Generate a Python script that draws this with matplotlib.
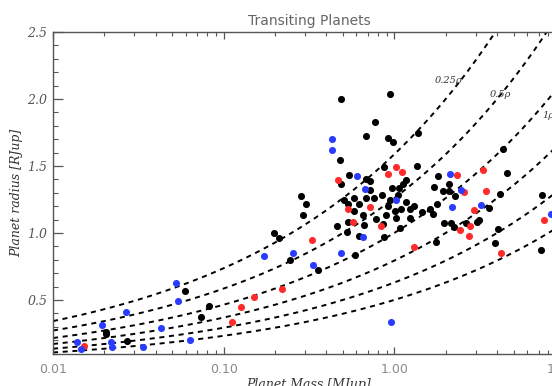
import numpy as np
import matplotlib
matplotlib.use("Agg")
import matplotlib.pyplot as plt
from matplotlib.ticker import FixedLocator, NullFormatter, MultipleLocator

# ---- data (Jupiter units) ----
black_mass = [0.488, 0.939, 0.767, 0.683, 0.914, 0.983, 1.376, 0.479, 0.543, 0.680,
              0.717, 0.488, 0.866, 1.350, 1.164, 1.124, 0.964, 1.065, 0.717, 0.282,
              0.302, 0.292, 0.505, 0.536, 0.584, 0.624, 0.683, 0.757, 0.851, 0.948,
              1.045, 1.164, 0.914, 1.013, 1.099, 1.229, 1.297, 0.584, 0.656, 0.898,
              0.782, 1.027, 1.229, 0.462, 0.538, 0.661, 0.859, 1.074, 0.529, 0.618,
              0.874, 0.246, 0.359, 0.589, 4.34, 1.791, 4.56, 1.714, 1.917, 2.097,
              2.097, 2.265, 4.17, 7.34, 1.777, 1.623, 1.458, 1.691, 3.58, 1.942,
              2.154, 2.223, 2.637, 3.045, 3.154, 4.04, 1.760, 3.91, 7.21, 0.197,
              0.211, 0.0594, 0.0820, 0.0734, 0.0204, 0.0204, 0.0273]
black_radius = [2.00, 2.04, 1.831, 1.726, 1.711, 1.679, 1.744, 1.543, 1.431, 1.403,
                1.386, 1.366, 1.490, 1.502, 1.393, 1.366, 1.336, 1.334, 1.321, 1.274,
                1.214, 1.137, 1.246, 1.216, 1.259, 1.216, 1.263, 1.263, 1.284, 1.246,
                1.284, 1.234, 1.204, 1.164, 1.177, 1.179, 1.204, 1.164, 1.134, 1.134,
                1.107, 1.112, 1.114, 1.052, 1.080, 1.060, 1.067, 1.037, 1.010, 0.978,
                0.972, 0.799, 0.724, 0.836, 1.625, 1.425, 1.446, 1.343, 1.313, 1.363,
                1.313, 1.274, 1.293, 1.284, 1.214, 1.177, 1.154, 1.140, 1.189, 1.077,
                1.077, 1.047, 1.077, 1.084, 1.099, 1.030, 0.935, 0.925, 0.873, 1.002,
                0.965, 0.569, 0.457, 0.371, 0.263, 0.246, 0.196]

red_mass = [0.469, 0.914, 1.027, 1.114, 0.538, 0.717, 0.576, 0.836, 0.331, 1.309,
            2.326, 3.30, 2.543, 3.45, 2.949, 2.783, 2.432, 2.746, 7.54, 4.21,
            0.221, 0.150, 0.127, 0.112, 0.0152]
red_radius = [1.396, 1.443, 1.495, 1.455, 1.177, 1.194, 1.084, 1.054, 0.946, 0.893,
              1.435, 1.470, 1.304, 1.313, 1.172, 1.054, 1.025, 0.978, 1.096, 0.849,
              0.578, 0.525, 0.446, 0.336, 0.157]

blue_mass = [0.430, 0.434, 0.605, 0.674, 1.018, 0.659, 0.254, 0.490, 0.335, 2.106,
             2.455, 2.184, 3.21, 8.25, 0.172, 0.0524, 0.0543, 0.0267, 0.0195, 0.0428,
             0.0635, 0.0138, 0.0218, 0.0146, 0.0223, 0.0335, 0.951]
blue_radius = [1.699, 1.619, 1.423, 1.328, 1.244, 0.968, 0.849, 0.849, 0.759, 1.438,
               1.319, 1.194, 1.207, 1.140, 0.828, 0.625, 0.493, 0.408, 0.313, 0.289,
               0.204, 0.183, 0.184, 0.132, 0.151, 0.151, 0.334]

# iso-density curves (in units of Jupiter density)
density_factors = [0.25, 0.5, 1, 2, 4, 8]
density_labels = ["0.25\u03c1", "0.5\u03c1", "1\u03c1"]
label_mass = [2.07, 4.17, 7.95]
label_radius = [2.14, 2.03, 1.88]

xticks = [0.01, 0.1, 1.0, 10.0]
xticklabels = ["0.01", "0.10", "1.00", "10.00"]
yticks = [0.5, 1.0, 1.5, 2.0, 2.5]

# ---- figure ----
W, H = 552, 386
fig = plt.figure(figsize=(W / 100, H / 100), dpi=100)
left, right, top, bottom = 53, 565, 32, 353.5
ax = fig.add_axes([left / W, 1 - bottom / H, (right - left) / W, (bottom - top) / H])

ax.set_xscale("log")
ax.set_xlim(0.01, 10)
ax.set_ylim(0.1, 2.5)

m = np.logspace(-2, 1.2, 400)
for f in density_factors:
    ax.plot(m, (m / f) ** (1 / 3), color="black", lw=1.4,
            linestyle=(0, (2.6, 2.4)), zorder=2)

for t, xm, yr in zip(density_labels, label_mass, label_radius):
    ax.text(xm, yr, t, fontsize=7, style="italic", family="DejaVu Serif",
            color="#333333", ha="center", va="center", zorder=4)

ms = 26
ax.scatter(black_mass, black_radius, s=ms, color="black", zorder=3, linewidths=0)
ax.scatter(red_mass, red_radius, s=ms, color="#ff2a2a", zorder=3, linewidths=0)
ax.scatter(blue_mass, blue_radius, s=ms, color="#2a3cff", zorder=3, linewidths=0)

spine_col = "#555555"
for s in ax.spines.values():
    s.set_color(spine_col)
    s.set_linewidth(1.0)

ax.xaxis.set_major_locator(FixedLocator(xticks))
ax.set_xticklabels(xticklabels)
minors = [k * 10.0 ** e for e in range(-2, 1) for k in range(2, 10)]
ax.xaxis.set_minor_locator(FixedLocator(minors))
ax.xaxis.set_minor_formatter(NullFormatter())
ax.yaxis.set_major_locator(FixedLocator(yticks))
ax.yaxis.set_minor_locator(MultipleLocator(0.1))
ax.set_yticklabels(["%.1f" % v for v in yticks])

ax.tick_params(axis="x", which="major", direction="in", length=5, width=0.9,
               top=True, bottom=True, color=spine_col, labelcolor="#888888",
               labelsize=9, pad=7)
ax.tick_params(axis="x", which="minor", direction="in", length=3, width=0.8,
               top=True, bottom=True, color=spine_col)
ax.tick_params(axis="y", which="major", direction="in", length=7, width=0.9,
               left=True, right=True, color=spine_col, labelcolor="#555555",
               labelsize=9, pad=4)
ax.tick_params(axis="y", which="minor", direction="in", length=3.5, width=0.8,
               left=True, right=True, color=spine_col)
for lab in ax.get_yticklabels():
    lab.set_fontstyle("italic")
    lab.set_family("DejaVu Serif")

ax.set_title("Transiting Planets", fontsize=10, color="#666666", pad=5)
ax.set_xlabel("Planet Mass [MJup]", fontsize=9, style="italic",
              family="DejaVu Serif", color="#333333", labelpad=1)
ax.set_ylabel("Planet radius [RJup]", fontsize=9, style="italic",
              family="DejaVu Serif", color="#333333", labelpad=3)

fig.savefig("out.png", dpi=100)
